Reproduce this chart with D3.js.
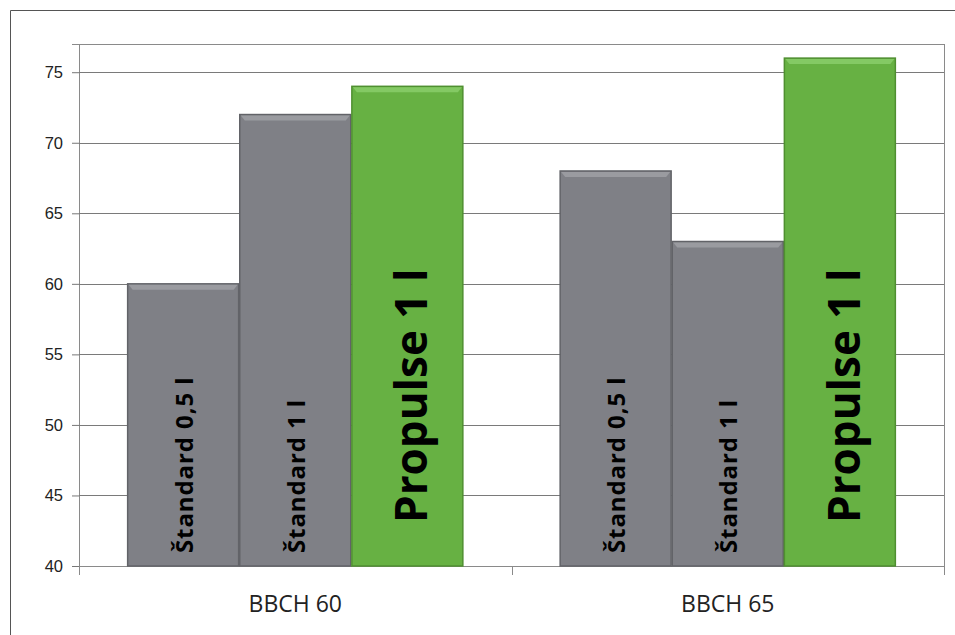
<!DOCTYPE html>
<html>
<head>
<meta charset="utf-8">
<script src="https://cdn.jsdelivr.net/npm/d3@7"></script>
<style>
  body { margin: 0; background: #fff; }
  svg { display: block; font-family: "Open Sans", "Noto Sans", sans-serif; }
</style>
</head>
<body>
<svg id="chart" width="955" height="635"></svg>
<script>
// data
const groups = ["BBCH 60", "BBCH 65"];
const variants = ["Štandard 0,5 l", "Štandard 1 l", "Propulse 1 l"];
const bbch60 = [60, 72, 74];
const bbch65 = [68, 63, 76];
const yTicks = [40, 45, 50, 55, 60, 65, 70, 75];

const seriesByGroup = [bbch60, bbch65];
const data = [];
groups.forEach((g, gi) => {
  variants.forEach((v, vi) => {
    data.push({ group: g, variant: v, value: seriesByGroup[gi][vi] });
  });
});

const svg = d3.select('#chart');
const margin = { top: 44, right: 11, bottom: 69, left: 79 };
const width = 955 - margin.left - margin.right;
const height = 635 - margin.top - margin.bottom;

// outer frame (only left and top edge visible in the original)
svg.append('path')
  .attr('d', 'M10.5,635 V10.5 H955')
  .attr('fill', 'none')
  .attr('stroke', '#555')
  .attr('stroke-width', 1);

const g = svg.append('g').attr('transform', `translate(${margin.left},${margin.top})`);

const x0 = d3.scaleBand().domain(groups).range([0, width]).paddingInner(0).paddingOuter(0);
const x1 = d3.scaleBand().domain(variants).range([0, x0.bandwidth()]).paddingInner(0.01).paddingOuter(0.434);
const y = d3.scaleLinear().domain([40, 77]).range([height, 0]);

// plot area border
g.append('rect')
  .attr('x', 0.5).attr('y', 0.5)
  .attr('width', width).attr('height', height)
  .attr('fill', 'none')
  .attr('stroke', '#8a8a8a');

// gridlines + y axis
const yAxis = d3.axisLeft(y).tickValues(yTicks).tickSize(7).tickPadding(9);
const yG = g.append('g').call(yAxis);
yG.select('.domain').attr('stroke', '#8a8a8a');
yG.selectAll('.tick line').attr('stroke', '#777');
yG.selectAll('.tick text').attr('font-size', 16.5).attr('fill', '#222');

g.append('g').selectAll('line')
  .data(yTicks)
  .join('line')
  .attr('x1', 0).attr('x2', width)
  .attr('y1', d => Math.round(y(d)) + 0.5)
  .attr('y2', d => Math.round(y(d)) + 0.5)
  .attr('stroke', '#7a7a7a')
  .attr('stroke-width', 1);

// x axis with ticks at band boundaries
const xG = g.append('g').attr('transform', `translate(0,${height})`);
xG.append('line').attr('x1', 0).attr('x2', width).attr('y1', 0.5).attr('y2', 0.5).attr('stroke', '#8a8a8a');
const boundaries = [0].concat(groups.map(d => x0(d) + x0.bandwidth()));
xG.selectAll('.xtick')
  .data(boundaries)
  .join('line')
  .attr('class', 'xtick')
  .attr('x1', d => Math.round(d) + 0.5).attr('x2', d => Math.round(d) + 0.5)
  .attr('y1', 0).attr('y2', 9)
  .attr('stroke', '#8a8a8a');
xG.selectAll('.xlabel')
  .data(groups)
  .join('text')
  .attr('class', 'xlabel')
  .attr('x', d => x0(d) + x0.bandwidth() / 2)
  .attr('y', 46)
  .attr('text-anchor', 'middle')
  .attr('font-size', 23)
  .attr('fill', '#222')
  .text(d => d);

// bar colours
const fill = d3.scaleOrdinal().domain(variants).range(['#7f8086', '#7f8086', '#67b143']);
const edge = d3.scaleOrdinal().domain(variants).range(['#626368', '#626368', '#4f8f30']);
const light = d3.scaleOrdinal().domain(variants).range(['#9a9ba0', '#9a9ba0', '#84c964']);

const bars = g.append('g').selectAll('g')
  .data(data)
  .join('g')
  .attr('transform', d => `translate(${x0(d.group) + x1(d.variant)},0)`);

bars.append('rect')
  .attr('x', 0)
  .attr('y', d => y(d.value))
  .attr('width', x1.bandwidth())
  .attr('height', d => y(40) - y(d.value))
  .attr('fill', d => fill(d.variant))
  .attr('stroke', d => edge(d.variant))
  .attr('stroke-width', 1.5);

// bevel highlight along the top
bars.append('path')
  .attr('d', d => {
    const w = x1.bandwidth(), t = y(d.value);
    return `M1,${t + 1} H${w - 1} L${w - 5},${t + 6} H5 Z`;
  })
  .attr('fill', d => light(d.variant));

// vertical labels inside bars
bars.append('text')
  .attr('transform', d => {
    const big = d.variant.startsWith('Propulse');
    return `translate(${x1.bandwidth() / 2 + (big ? 20 : 9.5)},${big ? 523 - margin.top : 553 - margin.top}) rotate(-90)`;
  })
  .attr('font-weight', 'bold')
  .attr('font-size', d => d.variant.startsWith('Propulse') ? 44 : 24)
  .attr('letter-spacing', d => d.variant.startsWith('Propulse') ? 0 : 0.9)
  .attr('fill', '#000')
  .text(d => d.variant);
</script>
</body>
</html>
